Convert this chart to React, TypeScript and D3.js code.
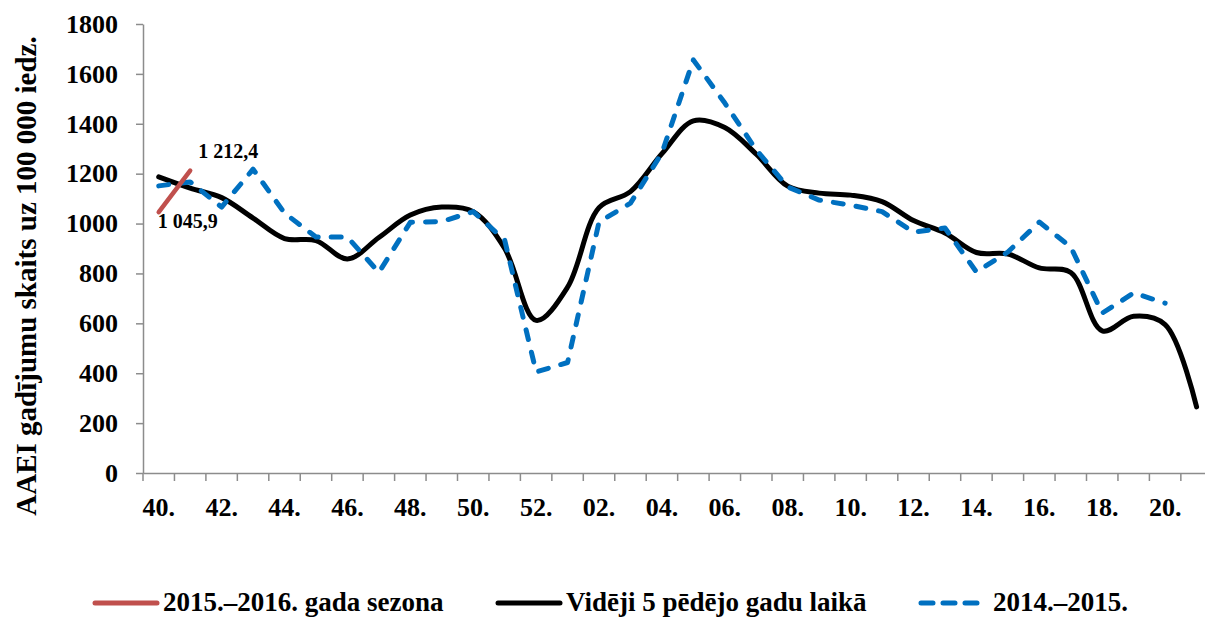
import React, { useEffect, useRef } from "react";
import * as d3 from "d3";

const weeks = [
  "40.", "41.", "42.", "43.", "44.", "45.", "46.", "47.", "48.", "49.", "50.", "51.", "52.",
  "01.", "02.", "03.", "04.", "05.", "06.", "07.", "08.", "09.", "10.", "11.", "12.", "13.",
  "14.", "15.", "16.", "17.", "18.", "19.", "20.", "21.",
];

// 2015.–2016. gada sezona (only two weeks so far)
const season1516 = [1045.9, 1212.4];
const labels1516 = ["1 045,9", "1 212,4"];

// Vidēji 5 pēdējo gadu laikā
const avg5 = [
  1187, 1142, 1104, 1022, 940, 932, 858, 944, 1034, 1066, 1048, 900, 612,
  745, 1064, 1128, 1280, 1412, 1385, 1278, 1150, 1122, 1114, 1088, 1012, 962,
  884, 878, 822, 804, 570, 628, 595, 265,
];

// 2014.–2015.
const season1415 = [
  1151, 1167, 1066, 1218, 1042, 946, 946, 804, 1005, 1008, 1048, 934, 405,
  443, 1006, 1082, 1283, 1656, 1483, 1295, 1147, 1094, 1074, 1048, 966, 982,
  806, 886, 1006, 906, 641, 722, 681,
];

const yTicks = [0, 200, 400, 600, 800, 1000, 1200, 1400, 1600, 1800];

const legendItems = [
  { name: "2015.–2016. gada sezona", color: "#C0504D", dash: null, x: 92 },
  { name: "Vidēji 5 pēdējo gadu laikā", color: "#000000", dash: null, x: 495 },
  { name: "2014.–2015.", color: "#0070C0", dash: "12 10", x: 918 },
];

const W = 1205;
const H = 617;
const plotLeft = 143;
const plotTop = 24;
const plotBottom = 473;
const bandW = 31.45;
const font = "'Liberation Serif', 'Times New Roman', serif";
const axisColor = "#8c8c8c";

const App = () => {
  const yAxisRef = useRef<SVGGElement>(null);
  const xAxisRef = useRef<SVGGElement>(null);

  const x = d3
    .scaleBand<string>()
    .domain(weeks)
    .range([plotLeft, plotLeft + bandW * weeks.length])
    .padding(0);
  const y = d3.scaleLinear().domain([0, 1800]).range([plotBottom, plotTop]);
  const cx = (i: number) => (x(weeks[i]) as number) + x.bandwidth() / 2;

  const smoothLine = d3
    .line<number>()
    .x((d, i) => cx(i))
    .y((d) => y(d))
    .curve(d3.curveCatmullRom.alpha(0.5));
  const straightLine = d3
    .line<number>()
    .x((d, i) => cx(i))
    .y((d) => y(d));

  useEffect(() => {
    const ya = d3
      .select(yAxisRef.current)
      .call(
        d3
          .axisLeft(y)
          .tickValues(yTicks)
          .tickFormat(d3.format("d"))
          .tickSize(7)
          .tickSizeOuter(0)
          .tickPadding(18)
      );
    ya.attr("font-family", null).attr("font-size", null);
    ya.select(".domain").attr("stroke", axisColor).attr("stroke-width", 1.5);
    ya.selectAll(".tick line").attr("stroke", axisColor).attr("stroke-width", 1.5);
    ya.selectAll(".tick text")
      .attr("fill", "#000")
      .attr("font-family", font)
      .attr("font-weight", "bold")
      .attr("font-size", 26);

    const xa = d3
      .select(xAxisRef.current)
      .call(
        d3
          .axisBottom(x)
          .tickSize(0)
          .tickSizeOuter(0)
          .tickPadding(25)
          .tickFormat((d, i) => (i % 2 === 0 ? d : ""))
      );
    xa.attr("font-family", null).attr("font-size", null);
    xa.select(".domain").attr("stroke", axisColor).attr("stroke-width", 1.5);
    xa.selectAll(".tick text")
      .attr("fill", "#000")
      .attr("font-family", font)
      .attr("font-weight", "bold")
      .attr("font-size", 26);
  }, []);

  const edges = d3.range(weeks.length + 1).map((i) => plotLeft + i * x.bandwidth());

  return (
    <div style={{ position: "absolute", left: 0, top: 0 }}>
      <svg width={W} height={H} style={{ display: "block", background: "#fff" }}>
        <text
          transform="translate(36,276) rotate(-90)"
          textAnchor="middle"
          fontFamily={font}
          fontWeight="bold"
          fontSize={29}
        >
          AAEI gadījumu skaits uz 100 000 iedz.
        </text>

        <g ref={yAxisRef} transform={`translate(${plotLeft},0)`} />
        <g ref={xAxisRef} transform={`translate(0,${plotBottom})`} />
        {edges.map((ex, i) => (
          <line
            key={i}
            x1={ex}
            x2={ex}
            y1={plotBottom}
            y2={plotBottom + 8}
            stroke={axisColor}
            strokeWidth={1.5}
          />
        ))}

        <path
          d={smoothLine(avg5) || ""}
          fill="none"
          stroke="#000"
          strokeWidth={5}
          strokeLinejoin="round"
          strokeLinecap="round"
        />
        <path
          d={straightLine(season1415) || ""}
          fill="none"
          stroke="#0070C0"
          strokeWidth={5}
          strokeDasharray="10 13"
          strokeLinejoin="round"
          strokeLinecap="round"
        />
        <path
          d={straightLine(season1516) || ""}
          fill="none"
          stroke="#C0504D"
          strokeWidth={4.5}
          strokeLinecap="round"
        />

        <text
          x={cx(0) - 1}
          y={y(season1516[0]) + 16}
          fontFamily={font}
          fontWeight="bold"
          fontSize={20}
        >
          {labels1516[0]}
        </text>
        <text
          x={cx(1) + 8}
          y={y(season1516[1]) - 13}
          fontFamily={font}
          fontWeight="bold"
          fontSize={20}
        >
          {labels1516[1]}
        </text>

        {legendItems.map((item) => (
          <g key={item.name}>
            <line
              x1={item.x + 3}
              x2={item.x + 65}
              y1={603}
              y2={603}
              stroke={item.color}
              strokeWidth={5}
              strokeLinecap="round"
              strokeDasharray={item.dash || undefined}
            />
            <text
              x={item.x + (item.dash ? 75 : 71)}
              y={611}
              fontFamily={font}
              fontWeight="bold"
              fontSize={27}
            >
              {item.name}
            </text>
          </g>
        ))}
      </svg>
    </div>
  );
};

export default App;
